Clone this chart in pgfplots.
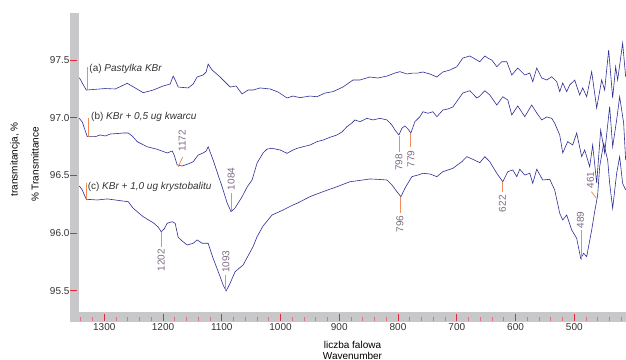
\documentclass[border=0pt]{standalone}
\usepackage{fontspec}
\setmainfont{Liberation Sans}
\usepackage{pgfplots}
\pgfplotsset{compat=1.18}
\definecolor{curve}{RGB}{45,45,150}
\definecolor{band}{RGB}{200,200,202}
\definecolor{tkred}{RGB}{225,40,55}
\definecolor{tkminor}{RGB}{232,110,125}
\definecolor{ann}{RGB}{125,105,130}
\definecolor{orng}{RGB}{240,140,90}
\begin{document}
\begin{tikzpicture}[x=1pt,y=1pt,font=\fontsize{10}{12}\selectfont]
\begin{axis}[
  at={(79pt,47pt)}, anchor=south west, scale only axis,
  width=547pt, height=299pt,
  x dir=reverse, xmin=412, xmax=1343, ymin=95.318, ymax=97.907,
  clip=false,
  axis line style={draw=none}, tick style={draw=none},
  xtick={500,600,...,1300}, ytick={95.5,96,96.5,97,97.5},
  /pgf/number format/assume math mode=true,
  xticklabel style={/pgf/number format/1000 sep={}, yshift=-7.5pt, text=black!80},
  yticklabel style={/pgf/number format/.cd, fixed, fixed zerofill, precision=1, /tikz/.cd, xshift=-6pt, text=black!80},
  ticklabel style={font=\fontsize{10}{12}\selectfont},
]
% gray bands
\fill[band] ([xshift=-9pt,yshift=-10pt]rel axis cs:0,0) rectangle (rel axis cs:0,1);
\fill[band] ([xshift=-9pt,yshift=-10pt]rel axis cs:0,0) rectangle (rel axis cs:1,0);
% y ticks
\pgfplotsinvokeforeach{95.5,96,96.5,97,97.5}{
  \draw[tkred, line width=1pt] ([xshift=-9pt]axis cs:1343,#1) -- ([xshift=-2pt]axis cs:1343,#1);
}
% x minor ticks
\pgfplotsinvokeforeach{1340,1320,1280,1260,1240,1220,1180,1160,1140,1120,1080,1060,1040,1020,980,960,940,920,880,860,840,820,780,760,740,720,680,660,640,620,580,560,540,520,480,460,440,420}{
  \draw[tkminor, line width=1pt] ([yshift=-4.7pt]axis cs:#1,95.318) -- ([yshift=-8.7pt]axis cs:#1,95.318);
}
\pgfplotsinvokeforeach{1300,1200,1100,1000,900,800,700,600,500}{
  \draw[tkred, line width=1pt] ([yshift=-2.3pt]axis cs:#1,95.318) -- ([yshift=-8.7pt]axis cs:#1,95.318);
}
% axis titles
\node[rotate=90, anchor=center] at ([xshift=-64pt,yshift=3pt]rel axis cs:0,0.5) {transmitancja, \%};
\node[rotate=90, anchor=center] at ([xshift=-44pt,yshift=-2pt]rel axis cs:0,0.5) {\% Transmittance};
\node[anchor=base] at ([yshift=-36.5pt]rel axis cs:0.5,0) {liczba falowa};
\node[anchor=base] at ([yshift=-47.2pt]rel axis cs:0.5,0) {Wavenumber};

% (a) KBr pellet
\addplot[curve, line width=0.6pt] coordinates {
(1342.5,97.347)(1330.6,97.240)(1315.3,97.246)(1298.3,97.253)(1281.3,97.249)(1260.9,97.298)
(1247.3,97.258)(1233.7,97.217)(1216.7,97.240)(1199.7,97.275)(1187.8,97.292)(1182.7,97.361)
(1179.3,97.327)(1174.2,97.266)(1157.2,97.258)(1148.7,97.292)(1141.9,97.353)(1131.7,97.370)
(1126.6,97.396)(1123.2,97.465)(1116.4,97.413)(1102.8,97.353)(1085.8,97.266)(1075.6,97.275)
(1065.4,97.206)(1055.2,97.240)(1046.7,97.240)(1034.8,97.258)(1017.8,97.249)(1004.2,97.223)
(988.9,97.171)(978.7,97.188)(966.8,97.174)(949.8,97.188)(937.9,97.182)(924.3,97.214)
(910.7,97.226)(893.7,97.266)(876.7,97.327)(864.8,97.327)(847.8,97.353)(834.2,97.344)
(818.9,97.361)(805.3,97.387)(796.8,97.399)(784.9,97.379)(774.7,97.387)(766.2,97.387)
(757.7,97.396)(745.8,97.379)(733.9,97.353)(723.7,97.396)(711.8,97.413)(699.9,97.442)
(689.7,97.517)(677.8,97.535)(665.9,97.500)(660.8,97.485)(652.3,97.535)(647.2,97.517)
(640.4,97.500)(631.9,97.442)(623.4,97.485)(614.9,97.485)(606.4,97.370)(596.2,97.431)
(584.3,97.370)(575.8,97.387)(570.7,97.312)(563.9,97.431)(555.4,97.344)(546.9,97.327)
(538.4,97.355)(529.9,97.312)(524.8,97.226)(519.7,97.301)(512.9,97.226)(507.8,97.284)
(499.3,97.327)(490.8,97.197)(485.7,97.258)(478.9,97.182)(470.4,97.399)(461.9,97.084)
(453.4,97.327)(448.3,97.240)(441.5,97.587)(434.7,97.171)(429.6,97.442)(426.2,97.327)
(417.7,97.647)(412.6,97.355)
};
% (b) KBr + quartz
\addplot[curve, line width=0.6pt] coordinates {
(1342.5,96.995)(1337.4,96.963)(1328.9,96.836)(1315.3,96.836)(1306.8,96.851)(1298.3,96.842)
(1289.8,96.859)(1276.2,96.864)(1267.7,96.868)(1259.2,96.868)(1252.4,96.842)(1243.9,96.793)
(1226.9,96.749)(1209.9,96.727)(1192.9,96.695)(1184.4,96.712)(1181.0,96.677)(1175.9,96.591)
(1167.4,96.582)(1157.2,96.600)(1148.7,96.619)(1140.2,96.677)(1131.7,96.695)(1126.6,96.712)
(1123.2,96.749)(1114.7,96.634)(1106.2,96.504)(1099.4,96.403)(1090.9,96.262)(1084.1,96.187)
(1077.3,96.219)(1065.4,96.316)(1056.9,96.400)(1048.4,96.461)(1039.9,96.608)(1029.7,96.695)
(1022.9,96.729)(1014.4,96.735)(1000.8,96.721)(988.9,96.692)(978.7,96.721)(971.9,96.735)
(961.7,96.749)(949.8,96.764)(937.9,96.793)(927.7,96.807)(915.8,96.831)(903.9,96.851)
(895.4,96.877)(886.9,96.923)(878.4,96.955)(873.3,96.981)(864.8,96.966)(852.9,96.995)
(842.7,96.981)(830.8,96.995)(818.9,96.981)(810.4,96.937)(805.3,96.894)(798.5,96.851)
(793.4,96.909)(788.3,96.929)(783.2,96.903)(778.1,96.868)(771.3,96.966)(762.8,97.009)
(757.7,97.052)(749.2,97.039)(740.7,97.052)(733.9,97.009)(723.7,97.067)(715.2,97.076)
(706.7,97.093)(698.2,97.154)(689.7,97.214)(677.8,97.234)(665.9,97.171)(660.8,97.188)
(652.3,97.234)(643.8,97.197)(631.9,97.110)(621.7,97.182)(613.2,97.154)(606.4,97.024)
(596.2,97.102)(584.3,97.009)(572.4,97.110)(563.9,97.041)(555.4,96.981)(546.9,97.007)
(538.4,96.995)(533.3,96.952)(524.8,96.851)(519.7,96.695)(511.2,96.793)(502.7,96.764)
(495.9,96.868)(487.4,96.663)(482.3,96.721)(473.8,96.576)(468.7,96.764)(461.9,96.435)
(455.1,96.894)(448.3,96.695)(439.8,97.096)(434.7,96.749)(427.9,96.981)(422.8,97.182)
(416.0,96.955)(412.6,96.634)
};
% (c) KBr + cristobalite
\addplot[curve, line width=0.6pt] coordinates {
(1342.5,96.409)(1337.4,96.374)(1330.6,96.294)(1311.9,96.288)(1294.9,96.297)(1281.3,96.288)
(1272.8,96.282)(1259.2,96.273)(1250.7,96.216)(1233.7,96.143)(1216.7,96.091)(1208.2,96.054)
(1203.1,96.013)(1198.0,96.037)(1192.9,96.086)(1184.4,96.100)(1179.3,96.086)(1174.2,95.965)
(1167.4,95.933)(1158.9,95.898)(1148.7,95.913)(1141.9,95.942)(1133.4,95.913)(1123.2,95.913)
(1114.7,95.783)(1102.8,95.624)(1097.7,95.552)(1092.6,95.500)(1085.8,95.567)(1077.3,95.667)
(1063.7,95.725)(1046.7,95.884)(1039.9,95.970)(1029.7,96.063)(1014.4,96.158)(995.7,96.201)
(978.7,96.245)(971.9,96.259)(949.8,96.317)(927.7,96.360)(903.9,96.403)(881.8,96.446)
(859.7,96.461)(847.8,96.470)(835.9,96.467)(818.9,96.461)(810.4,96.418)(801.9,96.360)
(795.1,96.316)(788.3,96.389)(776.4,96.490)(766.2,96.504)(757.7,96.519)(745.8,96.513)
(733.9,96.490)(723.7,96.533)(706.7,96.562)(691.4,96.619)(682.9,96.663)(672.7,96.640)
(660.8,96.611)(652.3,96.663)(643.8,96.619)(631.9,96.519)(621.7,96.446)(613.2,96.533)
(604.7,96.548)(597.9,96.490)(592.8,96.554)(584.3,96.504)(575.8,96.519)(570.7,96.432)
(563.9,96.554)(553.7,96.461)(541.8,96.467)(533.3,96.374)(524.8,96.173)(519.7,96.115)
(512.9,96.158)(504.4,96.028)(495.9,95.956)(489.1,95.783)(484.0,95.826)(478.9,95.797)
(470.4,96.028)(465.3,96.187)(460.2,96.331)(456.8,96.576)(450.0,96.779)(443.2,96.634)
(439.8,96.432)(434.7,96.216)(427.9,96.519)(422.8,96.663)(417.7,96.432)(412.6,96.374)
};

% series labels
\draw[orng, line width=0.8pt] (axis cs:1328.9,97.437) -- (axis cs:1328.9,97.240);
\draw[orng, line width=0.8pt] (axis cs:1326.7,96.995) -- (axis cs:1326.7,96.831);
\draw[orng, line width=0.8pt] (axis cs:1330.6,96.432) -- (axis cs:1330.6,96.297);
\node[anchor=base west, inner sep=0pt, text=black!80] at (axis cs:1325.5,97.400) {(a) \textit{Pastylka KBr}};
\node[anchor=base west, inner sep=0pt, text=black!80] at (axis cs:1322.6,96.987) {(b) \textit{KBr + 0,5 ug kwarcu}};
\node[anchor=base west, inner sep=0pt, text=black!80] at (axis cs:1328.4,96.381) {(c) \textit{KBr + 1,0 ug krystobalitu}};

% peak annotations
\draw[orng, line width=0.8pt] (axis cs:1174.2,96.574) -- (axis cs:1166.55,96.660);
\draw[orng, line width=0.8pt] (axis cs:1084.1,96.348) -- (axis cs:1084.1,96.193);
\draw[orng, line width=0.8pt] (axis cs:798.5,96.842) -- (axis cs:798.5,96.706);
\draw[orng, line width=0.8pt] (axis cs:778.1,96.871) -- (axis cs:778.1,96.749);
\draw[orng, line width=0.8pt] (axis cs:796.8,96.311) -- (axis cs:796.8,96.173);
\draw[orng, line width=0.8pt] (axis cs:622.5,96.446) -- (axis cs:622.5,96.355);
\draw[orng, line width=0.8pt] (axis cs:488.25,96.028) -- (axis cs:488.25,95.768);
\draw[orng, line width=0.8pt] (axis cs:470.9,96.360) -- (axis cs:462.4,96.303);
\draw[orng, line width=0.8pt] (axis cs:1203.1,96.013) -- (axis cs:1203.1,95.884);
\draw[orng, line width=0.8pt] (axis cs:1093.45,95.639) -- (axis cs:1093.45,95.509);
\begin{scope}[every node/.style={rotate=90, anchor=center, inner sep=0pt, text=ann}]
\node at (axis cs:1167.4,96.799) {1172};
\node at (axis cs:1084.1,96.470) {1084};
\node at (axis cs:798.5,96.613) {798};
\node at (axis cs:778.1,96.643) {779};
\node at (axis cs:796.8,96.080) {796};
\node at (axis cs:622.5,96.256) {622};
\node at (axis cs:489.6,96.115) {489};
\node at (axis cs:472.6,96.461) {461};
\node at (axis cs:1203.1,95.768) {1202};
\node at (axis cs:1093.1,95.754) {1093};
\end{scope}
\end{axis}
\pgfresetboundingbox
\useasboundingbox (0,0) rectangle (626pt,359pt);
\end{tikzpicture}
\end{document}
